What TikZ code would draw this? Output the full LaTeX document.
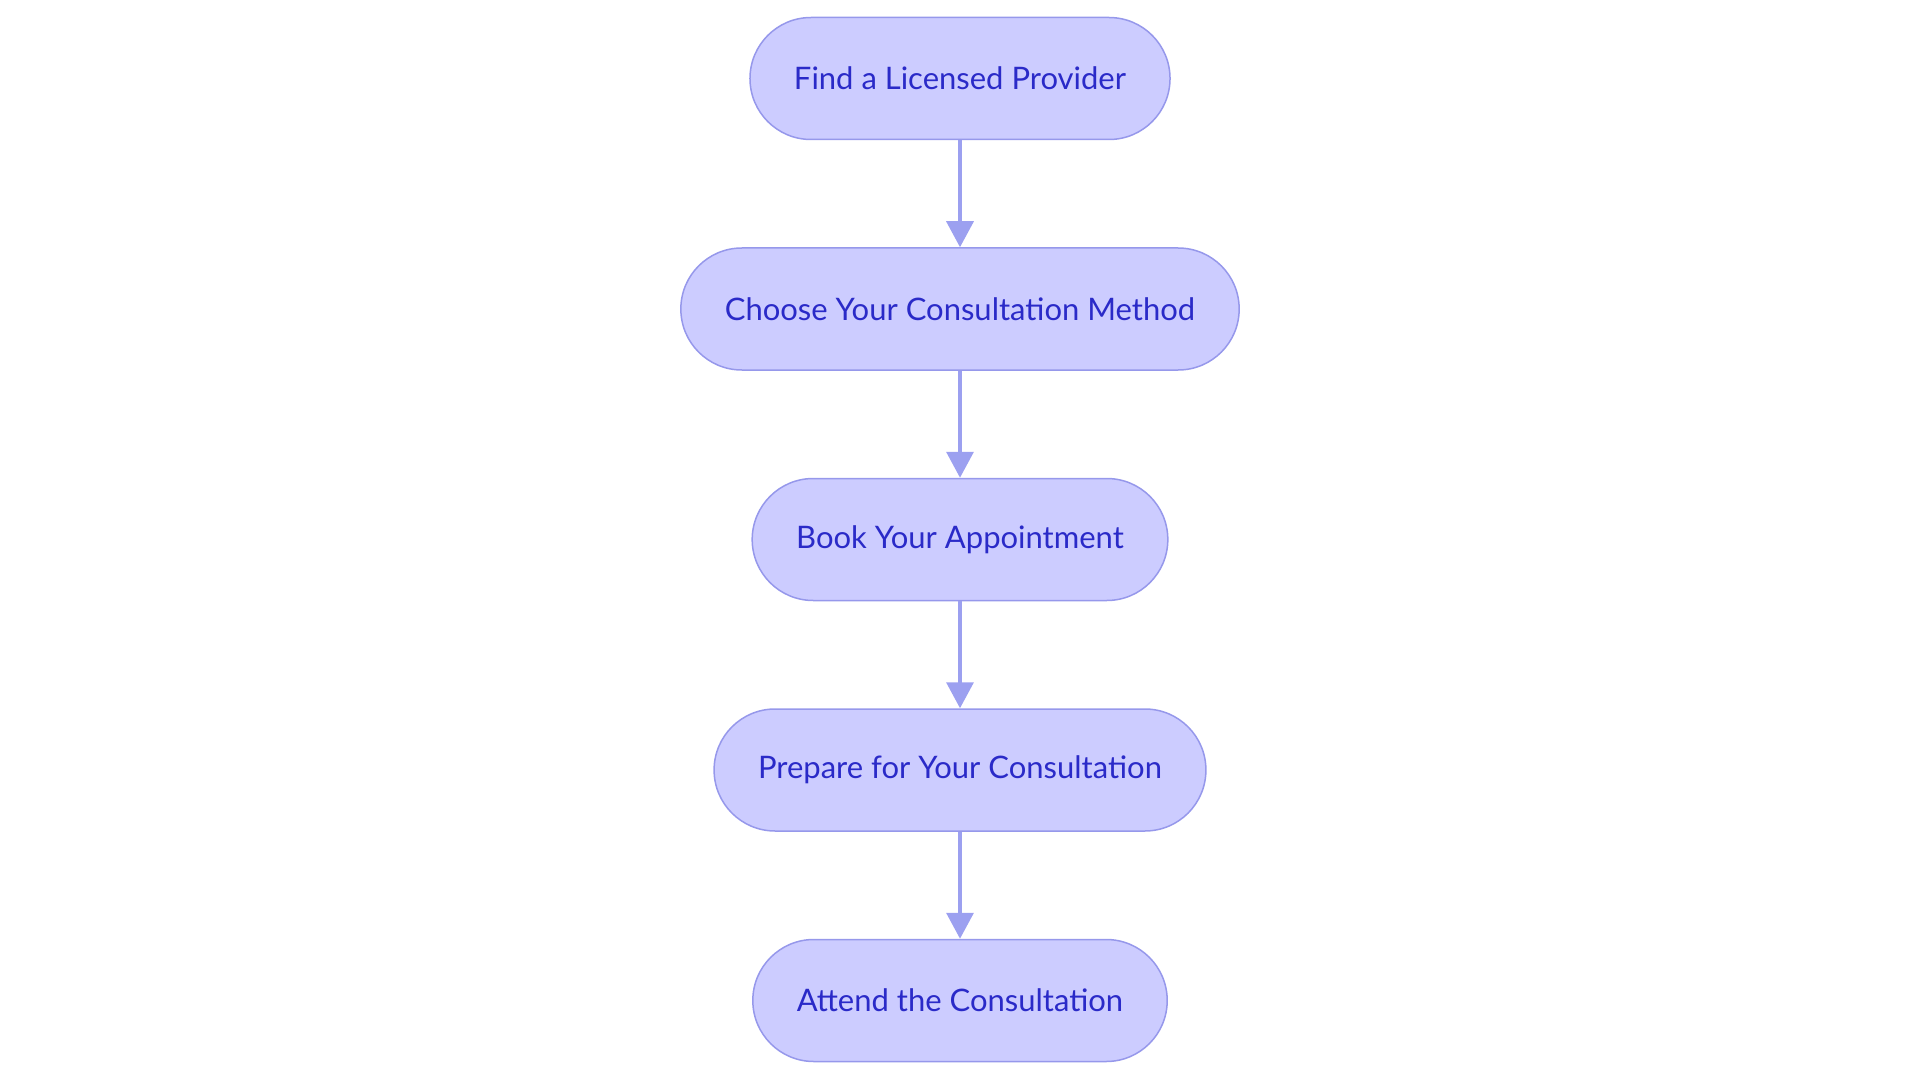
\documentclass[tikz,border=0pt]{standalone}
\usepackage{fontspec}
\setmainfont{Lato}
\usetikzlibrary{positioning}
\usetikzlibrary{arrows.meta}
\definecolor{step-fill}{RGB}{204,204,255}
\definecolor{step-line}{RGB}{150,152,235}
\definecolor{step-text}{RGB}{42,42,200}
\definecolor{arrow-line}{RGB}{156,160,240}
\tikzstyle{stepnode}=[draw=step-line,fill=step-fill,line width=1.5pt,rounded corners=61pt,minimum height=122pt,inner xsep=44pt,text=step-text,font=\fontsize{31}{36}\selectfont]
\tikzstyle{flowarrow}=[arrow-line,line width=3.5pt,-{Triangle[width=27pt,length=26pt]}]
\begin{document}
\begin{tikzpicture}[x=1pt,y=1pt,node distance=107pt]
\useasboundingbox (0,0) rectangle (1920,-1083);
% steps
\node[stepnode] (find) at (960,-78.5) {Find a Licensed Provider};
\node[stepnode,below=of find] (choose) {Choose Your Consultation Method};
\node[stepnode,below=of choose] (book) {Book Your Appointment};
\node[stepnode,below=of book] (prepare) {Prepare for Your Consultation};
\node[stepnode,below=of prepare] (attend) {Attend the Consultation};
% arrows
\draw[flowarrow] (find) -- (choose);
\draw[flowarrow] (choose) -- (book);
\draw[flowarrow] (book) -- (prepare);
\draw[flowarrow] (prepare) -- (attend);
\end{tikzpicture}
\end{document}
